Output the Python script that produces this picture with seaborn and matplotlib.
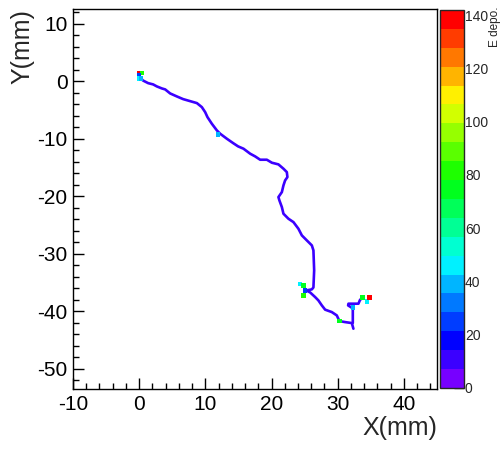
import colorsys
import numpy as np
import pandas as pd
import matplotlib
matplotlib.use("Agg")
import matplotlib.pyplot as plt
import seaborn as sns
from matplotlib.colors import ListedColormap, Normalize
from matplotlib.cm import ScalarMappable
from matplotlib.ticker import MultipleLocator

# track path (mm)
track_x = [0.15, 0.56, 1.36, 2.11, 2.67, 3.43, 3.93, 4.68, 5.69, 6.65, 7.70, 8.72,
           9.47, 9.97, 10.32, 10.98, 11.74, 12.24, 13.25, 14.20, 14.95, 15.76, 16.77,
           17.52, 18.28, 19.29, 20.05, 21.04, 21.80, 22.31, 22.40, 22.05, 21.80, 21.56,
           21.04, 21.19, 21.56, 21.80, 22.55, 23.31, 24.06, 24.58, 25.33, 26.09, 26.33,
           26.44, 26.33, 26.09, 25.23, 25.83, 26.59, 27.08, 27.60, 28.10, 29.11, 29.86,
           30.26, 31.12, 32.13, 32.37]
track_y = [0.70, 0.17, -0.30, -0.52, -0.87, -1.22, -1.39, -2.09, -2.61, -3.08, -3.43, -3.77,
           -4.47, -5.34, -6.21, -7.36, -8.52, -9.10, -9.97, -10.73, -11.30, -11.70, -12.57,
           -13.04, -13.62, -13.62, -14.14, -14.43, -15.18, -15.77, -16.64, -17.22, -18.09, -19.25,
           -20.12, -20.70, -21.86, -23.01, -23.88, -24.47, -25.62, -26.78, -27.65, -28.52, -29.39,
           -32.87, -35.83, -36.17, -36.35, -36.70, -37.51, -38.09, -38.96, -39.70, -40.12, -40.70,
           -41.69, -41.86, -42.03, -43.01]

# short branch at the end of the track
branch_x = [32.28, 32.28, 31.57, 31.62, 33.13, 33.38, 33.69]
branch_y = [-42.03, -39.48, -38.96, -38.66, -38.66, -37.97, -37.74]
track_edep = 10.0

# cells with larger deposits
spot_x = [-0.05, 0.45, -0.05, -0.05, 0.30, 11.89, 24.32, 24.82, 24.82, 25.08,
          30.29, 32.33, 33.76, 34.40, 34.79]
spot_y = [1.51, 1.51, 1.04, 0.52, 0.52, -9.22, -35.20, -35.48, -37.22, -36.35,
          -41.69, -39.30, -37.61, -38.26, -37.61]
spot_e = [135, 80, 25, 45, 38, 42, 48, 78, 80, 22,
          75, 40, 78, 45, 138]

cbar_ticks = [0, 20, 40, 60, 80, 100, 120, 140]

# ROOT-like 20 step rainbow palette
hues = np.linspace(268, 0, 20) / 360.0
cmap = ListedColormap([colorsys.hsv_to_rgb(h, 1, 1) for h in hues])
norm = Normalize(0, 142)

sns.set_style("white")
plt.rcParams["font.family"] = ["Liberation Sans", "DejaVu Sans"]
plt.rcParams["axes.unicode_minus"] = False

fig = plt.figure(figsize=(5.02, 4.49), dpi=100)
ax = fig.add_axes([0.1454, 0.1336, 0.7251, 0.8464])
cax = fig.add_axes([0.8765, 0.1359, 0.047, 0.842])

tr = pd.DataFrame({"x": track_x, "y": track_y})
br = pd.DataFrame({"x": branch_x, "y": branch_y})
col = cmap(norm(track_edep))
sns.lineplot(data=tr, x="x", y="y", sort=False, estimator=None, color=col, lw=1.9, ax=ax)
sns.lineplot(data=br, x="x", y="y", sort=False, estimator=None, color=col, lw=1.9, ax=ax)

sp = pd.DataFrame({"x": spot_x, "y": spot_y, "e": spot_e})
sns.scatterplot(data=sp, x="x", y="y", hue="e", palette=cmap, hue_norm=norm,
                marker="s", s=10, linewidth=0, legend=False, ax=ax, zorder=3)

ax.set_xlim(-10, 45)
ax.set_ylim(-53.5, 12.6)
ax.xaxis.set_major_locator(MultipleLocator(10))
ax.xaxis.set_minor_locator(MultipleLocator(2))
ax.yaxis.set_major_locator(MultipleLocator(10))
ax.yaxis.set_minor_locator(MultipleLocator(2))
ax.tick_params(which="both", direction="in", bottom=True, left=True, top=False, right=False,
               width=1, labelsize=15, colors="black")
ax.tick_params(which="major", length=8, pad=4)
ax.tick_params(which="minor", length=4)
for s in ax.spines.values():
    s.set_color("black")
    s.set_linewidth(1)
ax.set_xlabel("X(mm)", loc="right", fontsize=18, labelpad=2)
ax.set_ylabel("Y(mm)", loc="top", fontsize=18, labelpad=2)

cb = fig.colorbar(ScalarMappable(norm=norm, cmap=cmap), cax=cax)
cb.set_ticks(cbar_ticks)
cb.outline.set_linewidth(1)
cax.tick_params(direction="in", length=7, width=1, right=True, labelsize=10, pad=1)
fig.text(0.987, 0.985, "E depo.", rotation=90, ha="center", va="top", fontsize=8.5)

fig.savefig("out.png", dpi=100)
